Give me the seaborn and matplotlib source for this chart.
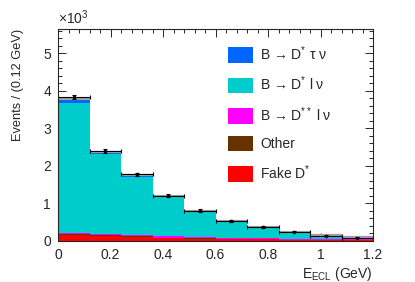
import numpy as np
import pandas as pd
import matplotlib
matplotlib.use('Agg')
import matplotlib.pyplot as plt
from matplotlib.patches import Patch
from matplotlib.ticker import MultipleLocator
import seaborn as sns

# bins of 0.12 GeV, values in units of 10^3 events
edges = [0.0, 0.12, 0.24, 0.36, 0.48, 0.60, 0.72, 0.84, 0.96, 1.08, 1.20]
centers = [0.06, 0.18, 0.30, 0.42, 0.54, 0.66, 0.78, 0.90, 1.02, 1.14]

tau_nu = [0.10, 0.06, 0.06, 0.04, 0.02, 0.015, 0.01, 0.01, 0.005, 0.005]
dst_lnu = [3.48, 2.13, 1.55, 1.03, 0.68, 0.43, 0.28, 0.175, 0.10, 0.06]
dss_lnu = [0.02, 0.03, 0.04, 0.04, 0.03, 0.03, 0.03, 0.02, 0.02, 0.015]
other = [0.04, 0.02, 0.02, 0.01, 0.01, 0.01, 0.01, 0.005, 0.005, 0.005]
fake = [0.15, 0.13, 0.10, 0.08, 0.06, 0.05, 0.04, 0.03, 0.02, 0.02]

data = [3.84, 2.40, 1.78, 1.21, 0.81, 0.54, 0.37, 0.25, 0.14, 0.09]
data_err = [0.06, 0.05, 0.04, 0.035, 0.03, 0.023, 0.02, 0.016, 0.012, 0.01]

labels = ['B → D$^{*}$ τ ν', 'B → D$^{*}$ l ν', 'B → D$^{**}$ l ν', 'Other', 'Fake D$^{*}$']
colors = ['#0066ff', '#00cccc', '#ff00ff', '#663300', '#ff0000']

rows = []
for lab, vals in zip(labels, [tau_nu, dst_lnu, dss_lnu, other, fake]):
    for c, v in zip(centers, vals):
        rows.append({'E': c, 'w': v, 'comp': lab})
df = pd.DataFrame(rows)
total = df.groupby('E')['w'].sum()

sns.set_style('ticks')
plt.rcParams['font.family'] = ['Liberation Sans', 'DejaVu Sans']
plt.rcParams['mathtext.fontset'] = 'custom'
plt.rcParams['mathtext.rm'] = 'Liberation Sans'
plt.rcParams['mathtext.it'] = 'Liberation Sans'
plt.rcParams['font.size'] = 10

fig = plt.figure(figsize=(4.15, 2.82), dpi=100)
ax = fig.add_axes([58/415, 1-241/282, 315/415, 212/282])

sns.histplot(data=df, x='E', weights='w', hue='comp', hue_order=labels,
             multiple='stack', bins=edges, palette=colors, linewidth=0,
             alpha=1, legend=False, ax=ax)
# MC total, top edge only
ax.hlines(total.values, edges[:-1], edges[1:], color='#a0a0a0', linewidth=1.6)
ax.errorbar(centers, data, xerr=0.06, yerr=data_err, fmt='o', color='black',
            markersize=1.5, elinewidth=0.8, capsize=1.2, capthick=0.8)

ax.set_xlim(0, 1.2)
ax.set_ylim(0, 5.65)
ax.xaxis.set_minor_locator(MultipleLocator(0.04))
ax.yaxis.set_major_locator(MultipleLocator(1))
ax.yaxis.set_minor_locator(MultipleLocator(0.2))
ax.set_xticks([0, 0.2, 0.4, 0.6, 0.8, 1.0, 1.2])
ax.set_xticklabels(['0', '0.2', '0.4', '0.6', '0.8', '1', '1.2'])
ax.tick_params(which='both', direction='in', top=True, right=True, width=0.7)
ax.tick_params(which='major', length=6, labelsize=10, pad=5)
ax.tick_params(which='minor', length=3)
for s in ax.spines.values():
    s.set_linewidth(0.8)

ax.set_xlabel('E$_{\\mathrm{ECL}}$ (GeV)', loc='right', fontsize=10, labelpad=2)
ax.set_ylabel('Events / (0.12 GeV)', loc='top', fontsize=9.2, labelpad=14)
fig.text(58/415, 1-18/282, '×10$^{3}$', fontsize=10, va='center', ha='left')

handles = [Patch(facecolor=c, edgecolor='none') for c in colors]
ax.legend(handles, labels, loc='upper left', bbox_to_anchor=(228/415, 1-44/282),
          bbox_transform=fig.transFigure, frameon=False, borderpad=0,
          borderaxespad=0, handlelength=1.8, handleheight=1.35,
          handletextpad=0.5, labelspacing=0.85, fontsize=10)

fig.savefig('out.png', dpi=100)
